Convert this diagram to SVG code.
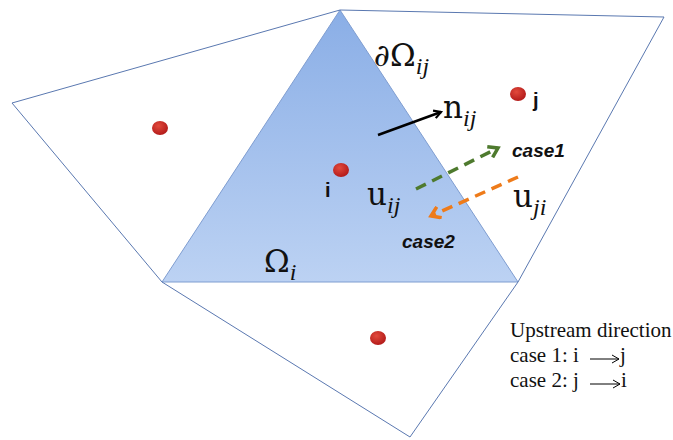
<svg xmlns="http://www.w3.org/2000/svg" width="673" height="440" viewBox="0 0 673 440">
<defs>
<linearGradient id="tri" x1="0" y1="0" x2="0" y2="1">
<stop offset="0" stop-color="#8aaee6"/>
<stop offset="1" stop-color="#bcd2f3"/>
</linearGradient>
<radialGradient id="dot" cx="0.4" cy="0.35" r="0.7">
<stop offset="0" stop-color="#e24a3c"/>
<stop offset="1" stop-color="#b01818"/>
</radialGradient>
<marker id="ab" markerWidth="10" markerHeight="10" refX="8" refY="5" orient="auto" markerUnits="userSpaceOnUse">
<path d="M1,1 L8,5 L1,9" fill="none" stroke="#000" stroke-width="2.2"/>
</marker>
<marker id="ag" markerWidth="14" markerHeight="14" refX="10" refY="7" orient="auto" markerUnits="userSpaceOnUse">
<path d="M1,1 L10,7 L1,13" fill="none" stroke="#4e7a2e" stroke-width="3.5"/>
</marker>
<marker id="ao" markerWidth="14" markerHeight="14" refX="10" refY="7" orient="auto" markerUnits="userSpaceOnUse">
<path d="M1,1 L10,7 L1,13" fill="none" stroke="#ee7b1a" stroke-width="3.5"/>
</marker>
<marker id="al" markerWidth="10" markerHeight="10" refX="8" refY="5" orient="auto" markerUnits="userSpaceOnUse">
<path d="M1,1 L8,5 L1,9" fill="none" stroke="#000" stroke-width="1"/>
</marker>
</defs>
<style>
.edge{fill:none;stroke:#5a78b0;stroke-width:1}
.lbl{font-family:"Liberation Sans",Arial,sans-serif;font-weight:bold;font-size:20px;fill:#111}
.case{font-family:"Liberation Sans",Arial,sans-serif;font-weight:bold;font-style:italic;font-size:19px;fill:#111}
.math{font-family:"DejaVu Serif","Liberation Serif",serif;font-size:31px;fill:#111}
.sub{font-family:"Liberation Serif",serif;font-style:italic;font-size:24px}
.leg{font-family:"Liberation Serif","Times New Roman",serif;font-size:21px;fill:#111}
</style>
<rect width="673" height="440" fill="#fff"/>
<g id="mesh">
<polygon points="340,10 162,282 518,282" fill="url(#tri)" stroke="#7f9dd0" stroke-width="1"/>
<polyline class="edge" points="340,10 12,103 162,282"/>
<polyline class="edge" points="340,10 664,17 518,282"/>
<polyline class="edge" points="162,282 410,437 518,282"/>
</g>
<g id="node-left"><ellipse cx="160" cy="128" rx="8" ry="7" fill="url(#dot)"/></g>
<g id="node-i"><ellipse cx="341" cy="170" rx="8" ry="7" fill="url(#dot)"/><text class="lbl" x="325" y="197">i</text></g>
<g id="node-j"><ellipse cx="518" cy="94" rx="8" ry="7" fill="url(#dot)"/><text class="lbl" x="533" y="107">j</text></g>
<g id="node-bottom"><ellipse cx="378" cy="338" rx="8" ry="7" fill="url(#dot)"/></g>
<g id="connectors">
<line x1="378" y1="135" x2="441" y2="112" stroke="#000" stroke-width="2.5" marker-end="url(#ab)"/>
<line x1="416" y1="189" x2="498" y2="148" stroke="#4e7a2e" stroke-width="3.5" stroke-dasharray="11,7" marker-end="url(#ag)"/>
<line x1="518" y1="177" x2="431" y2="216" stroke="#ee7b1a" stroke-width="3.5" stroke-dasharray="11,7" marker-end="url(#ao)"/>
</g>
<g id="labels">
<text class="math" x="374" y="66">∂Ω<tspan class="sub" dy="8">ij</tspan></text>
<text class="math" x="443" y="118">n<tspan class="sub" dy="8">ij</tspan></text>
<text class="math" x="367" y="205">u<tspan class="sub" dy="8">ij</tspan></text>
<text class="math" x="513" y="207">u<tspan class="sub" dy="8">ji</tspan></text>
<text class="math" x="264" y="272">Ω<tspan class="sub" dy="8">i</tspan></text>
<text class="case" x="512" y="157">case1</text>
<text class="case" x="402" y="248">case2</text>
</g>
<g id="legend">
<text class="leg" x="510" y="337">Upstream direction</text>
<text class="leg" x="510" y="362">case 1: i</text>
<text class="leg" x="620" y="362">j</text>
<text class="leg" x="510" y="387">case 2: j</text>
<text class="leg" x="621" y="387">i</text>
<line x1="590" y1="359" x2="619" y2="359" stroke="#000" stroke-width="1" marker-end="url(#al)"/>
<line x1="590" y1="384" x2="620" y2="384" stroke="#000" stroke-width="1" marker-end="url(#al)"/>
</g>
</svg>
